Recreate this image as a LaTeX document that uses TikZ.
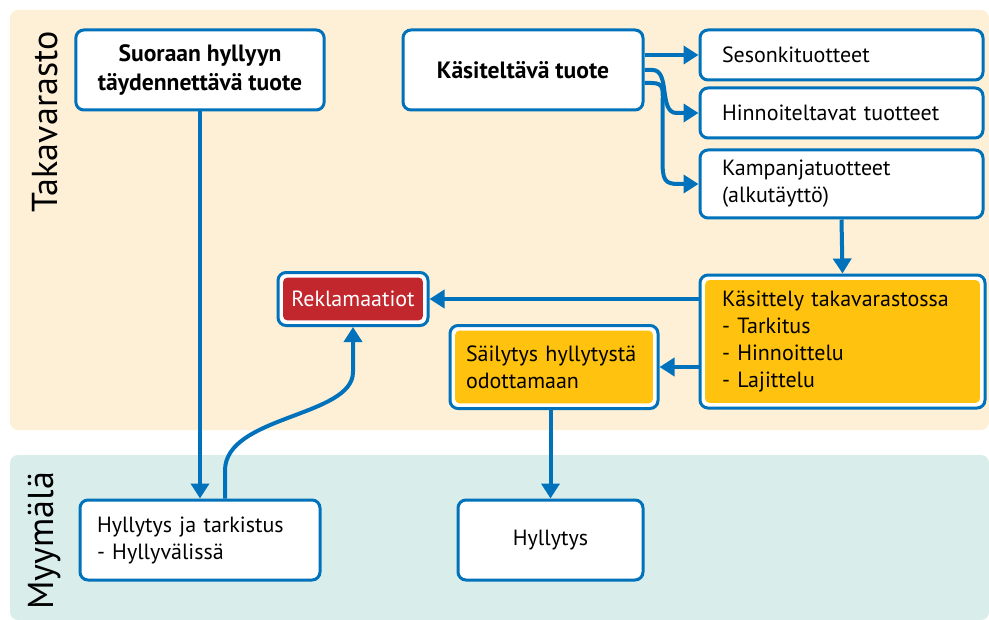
\documentclass[tikz,border=0pt]{standalone}
\usepackage{fontspec}
\setmainfont{PT Sans}
\usetikzlibrary{arrows.meta, positioning, calc}
\definecolor{HBlue}{RGB}{0,114,188}
\definecolor{HYellow}{RGB}{255,194,14}
\definecolor{HRed}{RGB}{193,39,45}
\definecolor{HCream}{RGB}{253,240,214}
\definecolor{HTeal}{RGB}{217,238,234}
\tikzset{
  >=latex,
  % laatikot
  box/.style={draw=HBlue,line width=1.5pt,rounded corners=4pt,fill=white,
    inner ysep=0pt,inner xsep=11pt,font=\fontsize{11}{13.5}\selectfont},
  box left/.style={box,align=left,text width=#1},
  box bold/.style={box,align=center,font=\fontsize{11.8}{14.5}\selectfont\bfseries,
    minimum width=120pt,minimum height=40pt},
  box fill/.style={path picture={\fill[#1,rounded corners=2pt]
    ([shift={(2.6pt,-2.6pt)}]path picture bounding box.north west) rectangle
    ([shift={(-2.6pt,2.6pt)}]path picture bounding box.south east);}},
  % alueet
  zone/.style={rounded corners=4pt},
  zone label/.style={rotate=90,font=\fontsize{18}{20}\selectfont},
  % yhteydet
  connect arrow/.style={-{Triangle[length=7.5pt,width=9pt]},line width=2pt,HBlue}
}
\begin{document}
\begin{tikzpicture}[x=0.5pt,y=-0.5pt]
  \useasboundingbox (0,0) rectangle (989,620);
  % taustat
  \fill[zone,HCream] (10,10) rectangle (989,430);
  \fill[zone,HTeal] (10,455) rectangle (989,620);
  \node[zone label] (takavarasto) at (45,122) {Takavarasto};
  \node[zone label] (myymala) at (45,541) {Myymälä};

  \node[box bold] (suoraan) at (200,70) {Suoraan hyllyyn\\täydennettävä tuote};
  \node[box bold] (kasiteltava) at (523,70) {Käsiteltävä tuote};
  \node[box left=119.5pt,minimum height=25pt] (sesonki) at (841.5,55) {Sesonkituotteet};
  \node[box left=119.5pt,minimum height=25pt] (hinnoiteltavat) at (841.5,113) {Hinnoiteltavat tuotteet};
  \node[box left=119.5pt,minimum height=34pt] (kampanja) at (841.5,184) {Kampanjatuotteet\\(alkutäyttö)};
  \node[box left=120.5pt,minimum height=66.5pt,box fill=HYellow] (kasittely) at (842.5,341.5)
    {Käsittely takavarastossa\\- Tarkitus\\- Hinnoittelu\\- Lajittelu};
  \node[box,minimum width=75pt,minimum height=26.5pt,inner xsep=4pt,box fill=HRed,text=white]
    (reklamaatiot) at (353,299) {Reklamaatiot};
  \node[box left=88pt,inner xsep=8pt,minimum height=41.5pt,box fill=HYellow] (sailytys) at (554,367)
    {Säilytys hyllytystä\\odottamaan};
  \node[box left=103pt,inner xsep=8.5pt,minimum height=40pt] (tarkistus) at (200,540)
    {Hyllytys ja tarkistus\\- Hyllyvälissä};
  \node[box,minimum width=92.5pt,minimum height=40pt] (hyllytys) at (550.5,540) {Hyllytys};

  \draw[connect arrow] (suoraan.south) -- (tarkistus.north);
  \draw[connect arrow] ([xshift=12.5pt]tarkistus.north) -- ++(0,-28)
    .. controls +(0,-55) and +(0,45) .. ($(reklamaatiot.south)+(0,45)$) -- (reklamaatiot.south);
  \draw[connect arrow] (kasiteltava.east |- sesonki) -- (sesonki.west);
  \draw[connect arrow] (kasiteltava.east) -- ++(8,0)
    .. controls +(18,0) and +(-18,0) .. ($(hinnoiteltavat.west)+(-22,0)$) -- (hinnoiteltavat.west);
  \draw[connect arrow] ([yshift=-6.5pt]kasiteltava.east) -- ++(7,0)
    .. controls +(14,0) and +(0,-20) .. ($(kampanja.west)+(-36,-74)$) -- ++(0,50)
    .. controls +(0,20) and +(-14,0) .. ($(kampanja.west)+(-20,0)$) -- (kampanja.west);
  \draw[connect arrow] (kampanja.south) -- (kasittely.north);
  \draw[connect arrow] (reklamaatiot -| kasittely.west) -- (reklamaatiot.east);
  \draw[connect arrow] (sailytys -| kasittely.west) -- (sailytys.east);
  \draw[connect arrow] (hyllytys.north |- sailytys.south) -- (hyllytys.north);
\end{tikzpicture}
\end{document}
